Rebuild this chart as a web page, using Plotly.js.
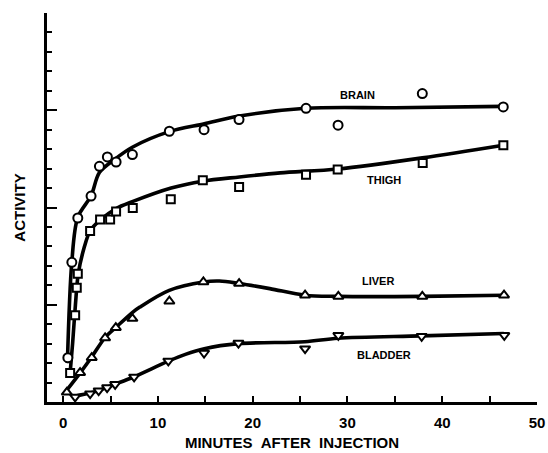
<!DOCTYPE html>
<html>
<head>
<meta charset="utf-8">
<script src="https://cdn.plot.ly/plotly-3.0.1.min.js"></script>
<style>html,body{margin:0;padding:0;background:#fff;}#chart{width:548px;height:453px;}</style>
</head>
<body>
<div id="chart"></div>
<script>
// ---- measured points (minutes, activity) ----
const brainX = [0.5, 0.92, 1.55, 2.95, 3.83, 4.67, 5.59, 7.31, 11.21, 14.87, 18.56, 25.63, 29.01, 37.9, 46.44];
const brainY = [2.28, 7.18, 9.46, 10.59, 12.12, 12.6, 12.34, 12.72, 13.92, 14.0, 14.52, 15.1, 14.23, 15.86, 15.17];

const thighX = [0.74, 1.27, 1.44, 1.55, 2.85, 3.9, 4.96, 5.59, 7.35, 11.36, 14.74, 18.57, 25.63, 28.97, 37.94, 46.45];
const thighY = [1.49, 4.46, 5.88, 6.6, 8.79, 9.38, 9.38, 9.8, 9.97, 10.42, 11.4, 11.05, 11.69, 11.96, 12.29, 13.2];

const liverX = [0.39, 1.79, 3.02, 4.43, 5.56, 7.31, 11.21, 14.8, 18.57, 25.53, 29.04, 37.9, 46.52];
const liverY = [0.5, 1.51, 2.28, 3.29, 3.82, 4.29, 5.18, 6.17, 6.09, 5.49, 5.43, 5.43, 5.49];

const bladderX = [1.27, 2.85, 3.75, 4.64, 5.49, 7.49, 11.1, 14.87, 18.5, 25.53, 29.04, 37.83, 46.55];
const bladderY = [0.26, 0.43, 0.58, 0.74, 0.91, 1.29, 2.11, 2.52, 3.03, 2.74, 3.43, 3.38, 3.43];

// ---- fitted curves as drawn in the figure ----
const brainFitX = [0.45, 0.92, 1.55, 2.95, 3.83, 5.5, 7.3, 11.2, 14.9, 18.6, 25.6, 35, 46.4];
const brainFitY = [2.0, 7.2, 9.5, 10.6, 11.8, 12.5, 13.1, 13.9, 14.3, 14.7, 15.1, 15.13, 15.2];

const thighFitX = [0.74, 1.0, 1.3, 1.6, 2.2, 2.85, 3.9, 5.6, 7.3, 11.4, 14.7, 18.6, 22.9, 29, 37.9, 46.45];
const thighFitY = [1.5, 3.0, 5.0, 6.6, 7.9, 8.8, 9.35, 9.95, 10.3, 11.0, 11.35, 11.57, 11.78, 11.98, 12.55, 13.2];

const liverFitX = [0.05, 1.8, 3.0, 4.4, 5.6, 7.3, 8.1, 11.2, 14.8, 16.5, 18.6, 21.8, 25.5, 29, 37.9, 46.5];
const liverFitY = [0.4, 1.5, 2.3, 3.3, 3.85, 4.6, 4.88, 5.74, 6.17, 6.22, 6.09, 5.83, 5.49, 5.43, 5.43, 5.49];

const bladderFitX = [1.2, 2.85, 3.8, 4.6, 5.4, 7.5, 11.1, 12.9, 14.9, 18.5, 25.5, 29, 37.8, 46.5];
const bladderFitY = [0.3, 0.46, 0.6, 0.75, 0.9, 1.3, 2.1, 2.45, 2.74, 3.0, 3.1, 3.28, 3.4, 3.52];

const seriesLabels = ['BRAIN', 'THIGH', 'LIVER', 'BLADDER'];
const labelX = [31.1, 33.9, 33.2, 33.9];
const labelY = [15.77, 11.4, 6.22, 2.4];

const xTickVals = [0, 5, 10, 15, 20, 25, 30, 35, 40, 45, 50];
const xTickText = ['0', '', '10', '', '20', '', '30', '', '40', '', '50'];

const INK = '#000';
function fit(x, y) {
  return {x: x, y: y, mode: 'lines', type: 'scatter', hoverinfo: 'skip',
    line: {color: INK, width: 3.6, shape: 'spline', smoothing: 0.9}};
}
function pts(x, y, sym, size) {
  return {x: x, y: y, mode: 'markers', type: 'scatter',
    marker: {symbol: sym, size: size, color: '#fff', line: {color: INK, width: 2}}};
}

const data = [
  fit(brainFitX, brainFitY), fit(thighFitX, thighFitY),
  fit(liverFitX, liverFitY), fit(bladderFitX, bladderFitY),
  pts(brainX, brainY, 'circle', 9),
  pts(thighX, thighY, 'square', 8),
  pts(liverX, liverY, 'triangle-up', 9),
  pts(bladderX, bladderY, 'triangle-down', 9)
];

const FONT = 'Liberation Sans, Arial, sans-serif';
const layout = {
  width: 548, height: 453,
  margin: {l: 47, r: 11, t: 13, b: 51},
  paper_bgcolor: '#fff', plot_bgcolor: '#fff',
  showlegend: false,
  font: {family: FONT, color: INK},
  xaxis: {
    range: [-1.7, 50], showgrid: false, zeroline: false,
    showline: true, linecolor: INK, linewidth: 2.5,
    ticks: 'inside', ticklen: 6, tickwidth: 2, tickcolor: INK,
    tickmode: 'array', tickvals: xTickVals, ticktext: xTickText,
    ticklabelstandoff: 5,
    tickfont: {family: FONT, size: 15, color: INK, weight: 'bold'},
    title: {text: 'MINUTES&nbsp;&nbsp;AFTER&nbsp;&nbsp;INJECTION', standoff: 8,
      font: {family: FONT, size: 15, color: INK, weight: 'bold'}}
  },
  yaxis: {
    range: [0, 20], showgrid: false, zeroline: false,
    showline: true, linecolor: INK, linewidth: 3,
    ticks: 'inside', ticklen: 10, tickwidth: 2, tickcolor: INK,
    dtick: 5, tick0: 0, showticklabels: false,
    minor: {ticks: 'inside', ticklen: 5, tickwidth: 2, tickcolor: INK, dtick: 1, showgrid: false},
    title: {text: 'ACTIVITY', standoff: 15,
      font: {family: FONT, size: 15, color: INK, weight: 'bold'}}
  },
  annotations: seriesLabels.map((t, i) => ({
    x: labelX[i], y: labelY[i], xref: 'x', yref: 'y', text: t, showarrow: false,
    font: {family: FONT, size: 11, color: INK, weight: 'bold'}
  }))
};

Plotly.newPlot('chart', data, layout, {staticPlot: true, displayModeBar: false});
</script>
</body>
</html>
